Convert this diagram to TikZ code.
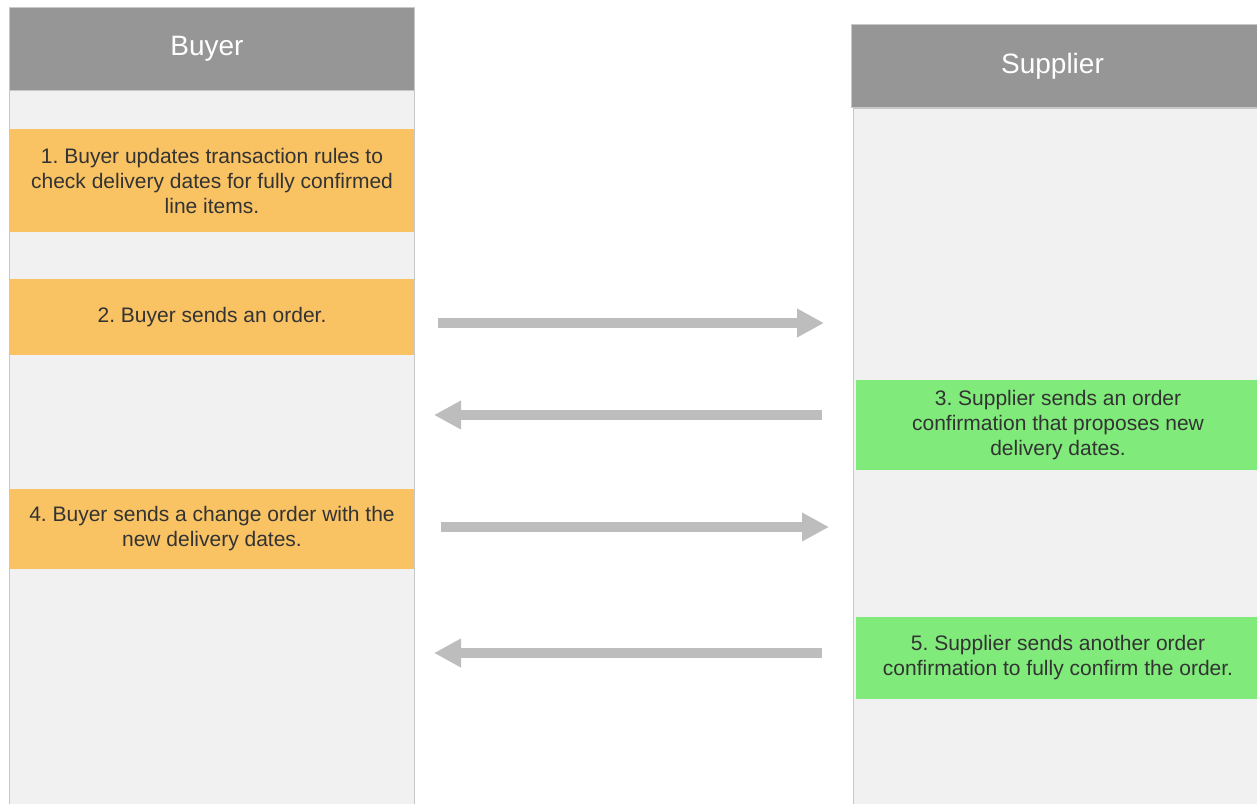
\documentclass[tikz,border=0pt]{standalone}
\usepackage{fontspec}
\setmainfont{Liberation Sans}
\usepackage{tikz}
\usetikzlibrary{positioning}
\usetikzlibrary{arrows.meta}
\frenchspacing

\definecolor{headgray}{HTML}{969696}
\definecolor{lanegray}{HTML}{F1F1F1}
\definecolor{edgegray}{HTML}{C8C8C8}
\definecolor{steporange}{HTML}{F9C364}
\definecolor{stepgreen}{HTML}{80EB7A}
\definecolor{flowgray}{HTML}{BDBDBD}
\definecolor{steptext}{HTML}{333333}

\begin{document}
\begin{tikzpicture}[
        x = 1pt, y = -1pt,
        head/.style = {
            fill = headgray,
            draw = edgegray,
            text = white,
            font = \fontsize{28}{32}\selectfont,
            minimum width = #1,
            minimum height = 83pt,
            inner sep = 0pt,
            outer sep = 0pt
        },
        head/.default = 405pt,
        lane/.style = {
            fill = lanegray,
            draw = edgegray,
            line width = 1pt,
            minimum width = #1,
            inner sep = 0pt,
            outer sep = 0pt
        },
        lane/.default = 405pt,
        stepbox/.style = {
            fill = #1,
            text = steptext,
            align = center,
            font = \fontsize{21}{25}\selectfont,
            minimum width = 404pt,
            inner sep = 0pt,
            outer sep = 0pt
        },
        stepbox/.default = steporange,
        flow/.style = {
            draw = flowgray,
            line width = 10pt,
            -{Triangle[length=27pt, width=27pt]}
        }
        ]
%
        \useasboundingbox (0,0) rectangle (1257,803);
%
        \node[head] (buyerhead) at (211.5,49) {\hspace{-9pt}Buyer};
        \node[lane, minimum height = 723pt, below=0pt of buyerhead] (buyerlane) {};
%
        \node[head=409pt] (supphead) at (1055.5,66) {\hspace{-6pt}Supplier};
        \node[lane=409pt, minimum height = 710pt] (supplane) at (1057.5,463) {};
%
%
        \node[stepbox, minimum height = 103pt] (s1) at (212,180.5)
            {1. Buyer updates transaction rules to\\check delivery dates for fully confirmed\\line items.};
        \node[stepbox, minimum height = 76pt] (s2) at (212,317) {2. Buyer sends an order.};
        \node[stepbox, minimum height = 80pt] (s4) at (212,529)
            {4. Buyer sends a change order with the\\new delivery dates.};
%
        \node[stepbox=stepgreen, minimum height = 90pt] (s3) at (1058,425)
            {3. Supplier sends an order\\confirmation that proposes new\\delivery dates.};
        \node[stepbox=stepgreen, minimum height = 82pt] (s5) at (1058,658)
            {5. Supplier sends another order\\confirmation to fully confirm the order.};
%
%
        \draw[flow, shorten <= 24pt, shorten >= 29pt] ([yshift=-6pt]s2.east) -- ([yshift=-6pt]s2.east -| supplane.west);
        \draw[flow, shorten <= 34pt, shorten >= 20pt] ([yshift=10pt]s3.west) -- ([yshift=10pt]s3.west -| buyerlane.east);
        \draw[flow, shorten <= 27pt, shorten >= 24pt] ([yshift=2pt]s4.east) -- ([yshift=2pt]s4.east -| supplane.west);
        \draw[flow, shorten <= 34pt, shorten >= 20pt] ([yshift=5pt]s5.west) -- ([yshift=5pt]s5.west -| buyerlane.east);
%
    \end{tikzpicture}
\end{document}
